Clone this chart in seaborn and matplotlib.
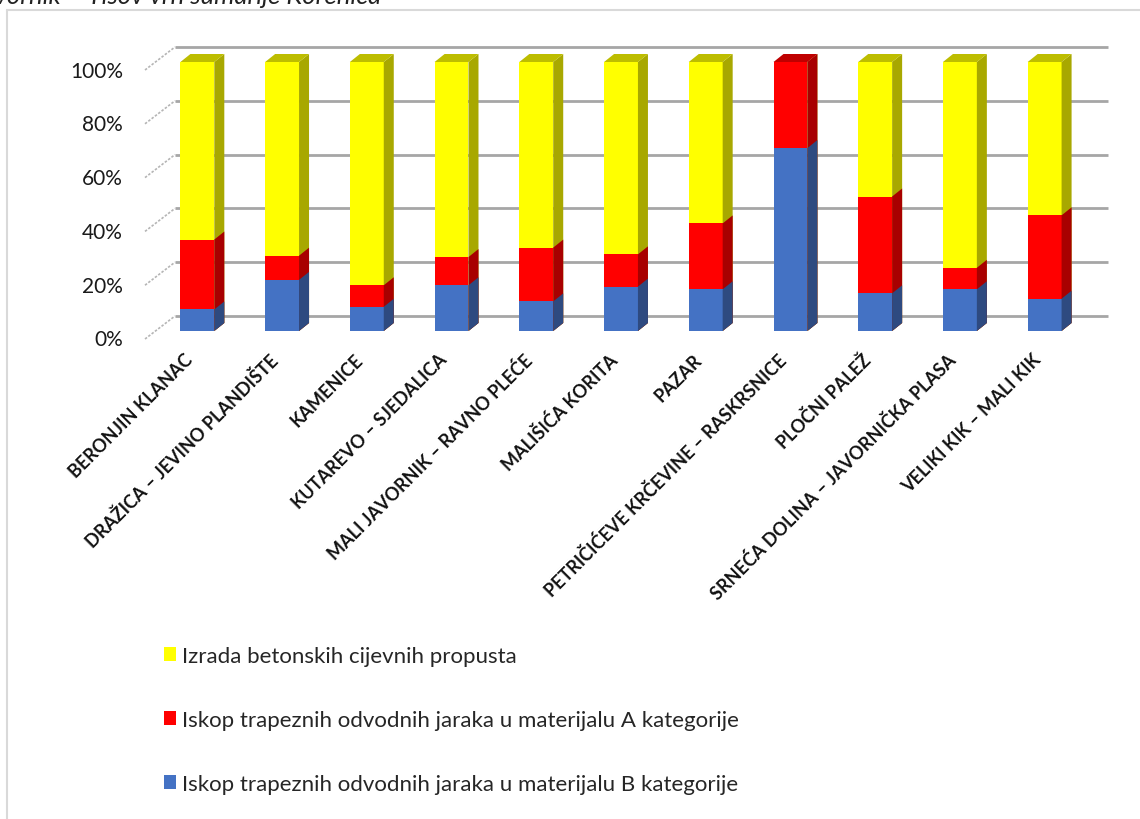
import numpy as np
import matplotlib
matplotlib.use("Agg")
import matplotlib.pyplot as plt
import matplotlib.transforms as mtransforms
from matplotlib.patches import Polygon, Patch
from matplotlib.lines import Line2D
import seaborn as sns

# ---------------- data ----------------
categories = [
    "BERONJIN KLANAC",
    "DRAŽICA – JEVINO PLANDIŠTE",
    "KAMENICE",
    "KUTAREVO – SJEDALICA",
    "MALI JAVORNIK – RAVNO PLEĆE",
    "MALIŠIĆA KORITA",
    "PAZAR",
    "PETRIČIĆEVE KRČEVINE – RASKRSNICE",
    "PLOČNI PALEŽ",
    "SRNEĆA DOLINA – JAVORNIČKA PLASA",
    "VELIKI KIK – MALI KIK",
]
blue_vals = [8, 19, 9, 17, 11, 16.5, 15.5, 68, 14, 15.5, 12]
red_vals = [26, 9, 8, 10.5, 20, 12, 24.5, 32, 36, 8, 31]
yellow_vals = [66, 72, 83, 72.5, 69, 71.5, 60, 0, 50, 76.5, 57]
series_names = [
    "Izrada betonskih cijevnih propusta",
    "Iskop trapeznih odvodnih jaraka u materijalu A kategorije",
    "Iskop trapeznih odvodnih jaraka u materijalu B kategorije",
]
ytick_vals = [0, 20, 40, 60, 80, 100]
ytick_labels = ["0%", "20%", "40%", "60%", "80%", "100%"]
title_text = "Mali Javornik – Tisov vrh šumarije Korenica"

# ---------------- style ----------------
sns.set_theme(style="white")
plt.rcParams["font.family"] = ["Lato", "DejaVu Sans"]

YEL, YEL_SIDE, YEL_TOP = "#FFFF00", "#A8A800", "#BDBD00"
RED, RED_SIDE, RED_TOP = "#FF0000", "#A80000", "#BF0000"
BLU, BLU_SIDE, BLU_TOP = "#4472C4", "#2E4A80", "#3A5FA0"

W, H = 1140, 820
fig = plt.figure(figsize=(W / 100, H / 100), dpi=100)
fig.patch.set_facecolor("white")

ax_l, ax_r, ax_top, ax_bot = 155, 1087, 63, 332
ax = fig.add_axes([ax_l / W, 1 - ax_bot / H, (ax_r - ax_l) / W, (ax_bot - ax_top) / H])
ax.set_facecolor("none")

n = len(categories)
xlim = (-0.5, n - 0.5)
ylim = (0, 100)
ux = (xlim[1] - xlim[0]) / (ax_r - ax_l)   # data per px (x)
uy = (ylim[1] - ylim[0]) / (ax_bot - ax_top)  # data per px (y)

blue = np.array(blue_vals, float)
red = np.array(red_vals, float)
yellow = np.array(yellow_vals, float)
cum_b = blue
cum_r = blue + red
cum_y = blue + red + yellow

dx, dy = 10 * ux, 8 * uy
layers = [(cum_y, YEL, YEL_SIDE), (cum_r, RED, RED_SIDE), (cum_b, BLU, BLU_SIDE)]
top_patches = None
for k, (vals, col, side) in enumerate(layers):
    before = len(ax.patches)
    sns.barplot(x=categories, y=vals, color=col, saturation=1, width=0.4,
                linewidth=0, ax=ax, zorder=3 + k, errorbar=None)
    new = ax.patches[before:]
    if k == 0:
        top_patches = list(new)
    for p in new:
        x0, y0, w, h = p.get_x(), p.get_y(), p.get_width(), p.get_height()
        poly = Polygon([(x0 + w, y0), (x0 + w + dx, y0 + dy),
                        (x0 + w + dx, y0 + h + dy), (x0 + w, y0 + h)],
                       closed=True, facecolor=side, edgecolor="none",
                       zorder=3 + k, clip_on=False)
        ax.add_patch(poly)

# top faces coloured by the top-most non-empty segment
for i, p in enumerate(top_patches):
    x0, w, h = p.get_x(), p.get_width(), p.get_height()
    if yellow[i] > 0:
        tc = YEL_TOP
    elif red[i] > 0:
        tc = RED_TOP
    else:
        tc = BLU_TOP
    ax.add_patch(Polygon([(x0, h), (x0 + w, h), (x0 + w + dx, h + dy), (x0 + dx, h + dy)],
                         closed=True, facecolor=tc, edgecolor="none", zorder=10, clip_on=False))

# back wall gridlines and oblique side lines
for v, lab in zip(ytick_vals, ytick_labels):
    ax.plot([xlim[0] + 20 * ux, xlim[1] + 21 * ux], [v + 15 * uy, v + 15 * uy],
            color="#a6a6a6", lw=2.0, zorder=1, clip_on=False, solid_capstyle="butt")
    ax.plot([xlim[0] - 10 * ux, xlim[0] + 20 * ux], [v - 8 * uy, v + 15 * uy],
            color="#b5b5b5", lw=1.2, ls=(0, (1.5, 1)), zorder=1, clip_on=False)
    ax.text(xlim[0] - 32 * ux, v - 8.5 * uy, lab,
            ha="right", va="center", fontsize=15, color="#1a1a1a")

ax.set_xlim(*xlim)
ax.set_ylim(*ylim)
ax.set_yticks([])
ax.set_xlabel("")
ax.set_ylabel("")
for s in ax.spines.values():
    s.set_visible(False)
ax.set_xticks(range(n))
ax.set_xticklabels(categories)
ax.tick_params(axis="x", length=0, pad=14)
for lab in ax.get_xticklabels():
    lab.set_rotation(45)
    lab.set_ha("right")
    lab.set_va("top")
    lab.set_rotation_mode("anchor")
    lab.set_fontweight("bold")
    lab.set_fontsize(13)
    lab.set_color("#111111")
    lab.set_transform(lab.get_transform() + mtransforms.Affine2D().translate(-13, 0))

# legend
handles = [Patch(facecolor=YEL, edgecolor="none"),
           Patch(facecolor=RED, edgecolor="none"),
           Patch(facecolor=BLU, edgecolor="none")]
fig.legend(handles, series_names, loc="upper left",
           bbox_to_anchor=(164 / W, 1 - 647 / H), frameon=False, fontsize=16,
           handlelength=0.55, handleheight=0.55, handletextpad=0.25,
           labelspacing=1.98, borderpad=0, borderaxespad=0)

# clipped title fragment and chart border
fig.text(381 / W, 1 - 4.5 / H, title_text, ha="right", va="baseline",
         style="italic", fontsize=18.5, color="#222222")
fig.add_artist(Line2D([7 / W, 7 / W], [0, 1 - 10.5 / H], transform=fig.transFigure,
                      color="#d9d9d9", lw=1.5))
fig.add_artist(Line2D([7 / W, 1], [1 - 10.5 / H, 1 - 10.5 / H], transform=fig.transFigure,
                      color="#d9d9d9", lw=1.5))

fig.savefig("out.png", dpi=100)
